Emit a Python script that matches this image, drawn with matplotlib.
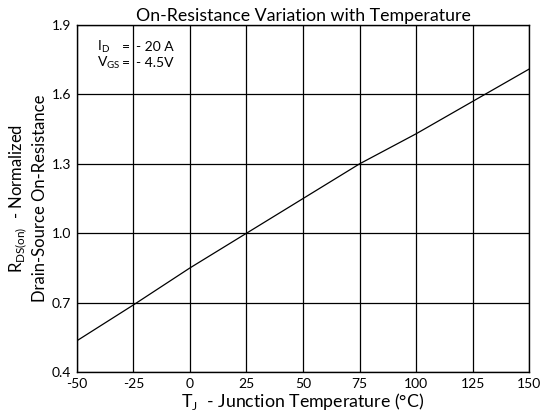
import numpy as np
import matplotlib.pyplot as plt

plt.rcParams['font.family'] = ['Lato', 'DejaVu Sans']
plt.rcParams['mathtext.fontset'] = 'custom'
plt.rcParams['mathtext.rm'] = 'Lato'
plt.rcParams['axes.unicode_minus'] = False

# junction temperature (C) and normalized on-resistance
temps = [-50, -25, 0, 25, 50, 75, 100, 125, 150]
rds_norm = [0.535, 0.69, 0.85, 1.0, 1.15, 1.30, 1.43, 1.57, 1.71]

xticks = [-50, -25, 0, 25, 50, 75, 100, 125, 150]
yticks = [0.4, 0.7, 1.0, 1.3, 1.6, 1.9]

fig = plt.figure(figsize=(5.45, 4.18), dpi=100)
ax = fig.add_axes([0.141, 0.110, 0.830, 0.830])

ax.plot(temps, rds_norm, color='black', lw=0.9)

ax.set_xlim(-50, 150)
ax.set_ylim(0.4, 1.9)
ax.set_xticks(xticks)
ax.set_yticks(yticks)
ax.set_yticklabels([f"{v:.1f}" for v in yticks])
ax.tick_params(length=0, labelsize=10, pad=4)
ax.grid(True, color='black', lw=0.9)
for s in ax.spines.values():
    s.set_linewidth(1.0)

ax.set_title("On-Resistance Variation with Temperature", fontsize=12.8, pad=3)
ax.set_xlabel(r"T$_{\mathregular{J}}$  - Junction Temperature (°C)", fontsize=12.8, labelpad=1)
ax.set_ylabel(r"R$_{\mathregular{DS(on)}}$  - Normalized" + "\n" + "Drain-Source On-Resistance",
              fontsize=12, labelpad=3)

# test conditions
ax.text(-41, 1.805, r"I$_{\mathregular{D}}$", fontsize=10, va='center')
ax.text(-41, 1.736, r"V$_{\mathregular{GS}}$", fontsize=10, va='center')
ax.text(-26.5, 1.805, "=", fontsize=10, va='center', ha='right')
ax.text(-26.5, 1.736, "=", fontsize=10, va='center', ha='right')
ax.text(-24, 1.805, "- 20 A", fontsize=10, va='center')
ax.text(-24, 1.736, "- 4.5V", fontsize=10, va='center')

fig.savefig("out.png", dpi=100)
